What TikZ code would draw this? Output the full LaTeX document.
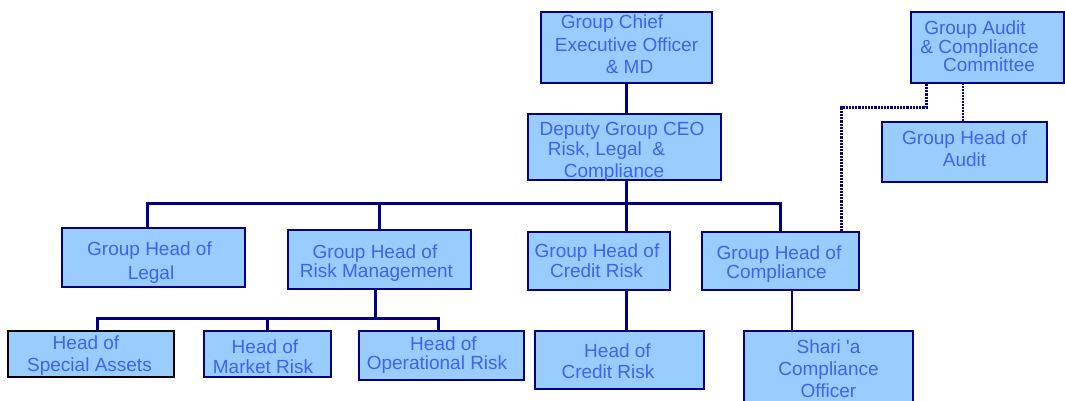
\documentclass[tikz,border=0pt]{standalone}
\usepackage{fontspec}
\setmainfont{Liberation Sans}
\newfontfamily\plainq[Ligatures=TeXOff]{Liberation Sans}
\definecolor{boxfill}{HTML}{99CCFF}
\definecolor{navy}{HTML}{000080}
\definecolor{txtblue}{HTML}{3C64F0}
\newcommand\ofs[2]{\makebox[0pt]{\hspace*{#1pt}\hspace*{#1pt}#2}}
\newcommand\obox[9][]{%
  \node[bx,#1,minimum width={#5-#3},minimum height={#6-#4}] (#2) at ({(#3+#5)/2},{(#4+#6)/2}) {};
  \node[txt,font=\fontsize{19}{#8}\selectfont,anchor=base] (#2-t) at ({(#3+#5)/2},#7) {#9};
}
\tikzset{
  bx/.style={draw=navy,line width=1.5pt,fill=boxfill,rectangle,inner sep=0pt},
  txt/.style={text=txtblue,align=center,inner sep=0pt},
  bus/.style={draw=navy,line width=3pt},
  thinline/.style={draw=navy,line width=1.5pt},
  dotA/.style={draw=navy,line width=3pt,dash pattern=on 2.2pt off 1pt},
  dotB/.style={draw=navy,line width=2pt,dash pattern=on 1.8pt off 1.2pt},
}
\begin{document}
\begin{tikzpicture}[x=1pt,y=-1pt]
\path[use as bounding box,clip] (0,0) rectangle (1065,401);
\fill[white] (0,0) rectangle (1065,401);
% boxes (text position = baseline of the last line)
\obox{ceo}{541}{12}{712}{83}{74}{22.5}{\ofs{-14.5}{Group Chief}\\\ofs{0}{Executive Officer}\\\ofs{3}{\& MD}}
\obox{dep}{528}{114}{721}{180}{177}{21}{\ofs{-2.5}{Deputy Group CEO}\\\ofs{-18}{Risk,\ Legal\ \ \&}\\\ofs{-10.5}{Compliance}}
\obox{aud}{911}{12}{1064}{83}{72}{18.5}{\ofs{-12.5}{Group Audit}\\\ofs{-8}{\& Compliance}\\\ofs{1.5}{Committee}}
\obox{gha}{882}{122}{1047}{182}{166}{21}{\ofs{0}{Group Head of}\\\ofs{0}{Audit}}
\obox{legal}{62}{228}{245}{287}{279}{24}{\ofs{-4}{Group Head of}\\\ofs{-2.5}{Legal}}
\obox{risk}{288}{230}{471}{289}{277}{19}{\ofs{-4.5}{Group Head of}\\\ofs{-3}{Risk Management}}
\obox{credit}{528}{232}{670}{290}{277}{20}{\ofs{-2}{Group Head of}\\\ofs{-2.5}{Credit Risk}}
\obox{comp}{702}{232}{859}{290}{278}{19}{\ofs{-1.5}{Group Head of}\\\ofs{-4}{Compliance}}
\obox[draw=black]{spec}{8}{331}{174}{377}{371}{22}{\ofs{-5}{Head of}\\\ofs{-1.5}{Special Assets}}
\obox{mkt}{204}{331}{331}{377}{373}{20}{\ofs{-2.5}{Head of}\\\ofs{-4.5}{Market Risk}}
\obox{ops}{359}{331}{524}{380}{369}{19}{\ofs{2}{Head of}\\\ofs{-4.5}{Operational Risk}}
\obox{hcr}{535}{331}{704}{389}{378}{21}{\ofs{-2}{Head of}\\\ofs{-11.5}{Credit Risk}}
\obox{shar}{744}{331}{913}{410}{397}{22}{\ofs{0}{Shari {\plainq'}a}\\\ofs{0}{Compliance}\\\ofs{0}{Officer}}
% junction points
\coordinate (busc) at (626,203);
\coordinate (subc) at (375,318);
\coordinate (dj) at (841,108);
% connectors
\draw[bus] (ceo.south -| busc) -- (dep.north -| busc);
\draw[bus] (dep.south -| busc) -- (busc);
\draw[bus] ([xshift=-6.5pt]legal.north) |- (busc) -| (comp.north);
\draw[bus] (risk.north |- busc) -- (risk.north);
\draw[bus] (busc) -- (credit.north -| busc);
\draw[bus] (risk.south -| subc) -- (subc);
\draw[bus] ([xshift=6pt]spec.north) |- (subc) -| ([xshift=-3.5pt]ops.north);
\draw[bus] (mkt.north |- subc) -- (mkt.north);
\draw[bus] (credit.south -| busc) -- (hcr.north -| busc);
\draw[thinline] ([xshift=-36.5pt]shar.north) -- ([xshift=-36.5pt]shar.north |- comp.south);
\draw[dotA] ([xshift=-61.5pt]aud.south) |- (dj) -- (comp.north -| dj);
\draw[dotB] ([xshift=-1.5pt]gha.north) -- ([xshift=-1.5pt]gha.north |- aud.south);
\end{tikzpicture}
\end{document}
